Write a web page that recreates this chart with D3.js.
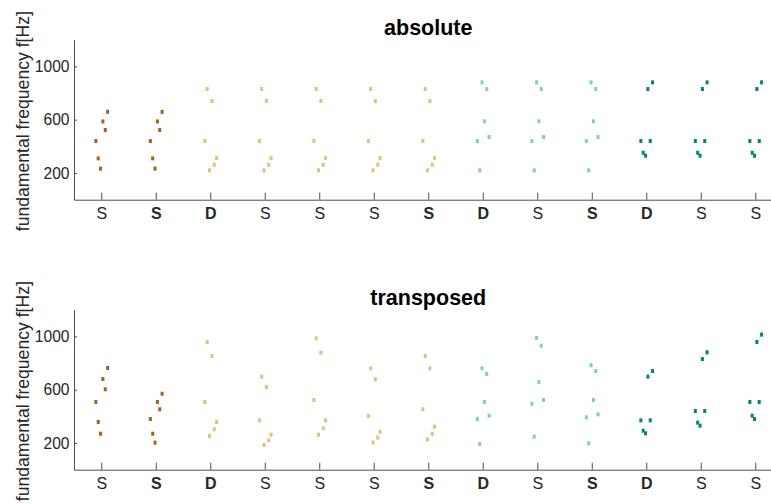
<!DOCTYPE html>
<html>
<head>
<meta charset="utf-8">
<script src="https://cdn.jsdelivr.net/npm/d3@7"></script>
<style>
  body { margin: 0; background: #fff; }
  svg { font-family: "Liberation Sans", Arial, Helvetica, sans-serif; }
</style>
</head>
<body>
<div id="chart"></div>
<script>
// tick labels along the x axis, and which of them are bold
const tickLabels = ['S', 'S', 'D', 'S', 'S', 'S', 'S', 'D', 'S', 'S', 'D', 'S', 'S']
const boldTicks = [false, true, true, false, false, false, true, true, false, true, true, false, false]

// colour group of each category (BrBG-like)
const groupColors = ['#a6611a', '#dfc27d', '#80cdc1', '#018571']
const categoryGroup = [0, 0, 1, 1, 1, 1, 1, 2, 2, 2, 3, 3, 3]

// six notes per category (Hz), in the order they are drawn left to right
const absoluteValues = [
  [440, 310, 233, 587, 523, 659],
  [440, 310, 233, 587, 523, 659],
  [440, 830, 220, 740, 262, 312],
  [440, 830, 220, 740, 262, 312],
  [440, 830, 220, 740, 262, 312],
  [440, 830, 220, 740, 262, 312],
  [440, 830, 220, 740, 262, 312],
  [440, 220, 880, 588, 830, 470],
  [440, 220, 880, 588, 830, 470],
  [440, 220, 880, 588, 830, 470],
  [440, 352, 330, 830, 440, 880],
  [440, 352, 330, 830, 440, 880],
  [440, 352, 330, 830, 440, 880]
]

const transposedValues = [
  [508, 358, 270, 680, 603, 763],
  [380, 270, 203, 508, 453, 570],
  [508, 958, 253, 853, 303, 358],
  [370, 698, 185, 620, 220, 263],
  [523, 985, 263, 878, 310, 370],
  [403, 760, 203, 678, 240, 285],
  [453, 853, 228, 760, 270, 323],
  [380, 193, 760, 508, 718, 405],
  [495, 248, 988, 658, 930, 523],
  [393, 198, 783, 523, 740, 415],
  [370, 293, 273, 698, 370, 740],
  [440, 353, 330, 830, 440, 880],
  [508, 405, 380, 958, 508, 1013]
]

const yTicks = [200, 600, 1000]

const width = 771
const height = 504
const textColor = '#262626'
const axisColor = '#4d4d4d'

const svg = d3.select('#chart')
  .append('svg')
  .attr('width', width)
  .attr('height', height)

const x = d3.scaleLinear()
  .domain([0.5, 13.5])
  .range([74, 782.5])

// draw one panel; top/bottom are the pixel rows of the y range
function drawPanel(title, values, top, bottom) {
  let y = d3.scaleLinear()
    .domain([0, 1200])
    .range([bottom, top])

  let g = svg.append('g')

  // x axis, ticks pointing up into the plot
  g.append('g')
    .attr('transform', `translate(0, ${bottom})`)
    .call(d3.axisBottom(x)
      .tickValues(d3.range(1, 14))
      .tickSizeInner(-7)
      .tickSizeOuter(0)
      .tickPadding(7.5)
      .tickFormat((d, i) => tickLabels[i]))
    .call(g => g.select('.domain').attr('stroke', axisColor))
    .call(g => g.selectAll('.tick line').attr('stroke', axisColor))
    .call(g => g.selectAll('.tick text')
      .attr('font-size', 16)
      .attr('fill', textColor)
      .attr('font-weight', (d, i) => boldTicks[i] ? 'bold' : 'normal'))

  // y axis, ticks cross the axis line
  g.append('g')
    .attr('transform', `translate(74, 0)`)
    .call(d3.axisLeft(y)
      .tickValues(yTicks)
      .tickFormat(d3.format('d'))
      .tickSizeInner(4)
      .tickSizeOuter(0)
      .tickPadding(0.5))
    .call(g => g.select('.domain').attr('stroke', axisColor))
    .call(g => g.selectAll('.tick line').attr('stroke', axisColor).attr('x2', 3))
    .call(g => g.selectAll('.tick text')
      .attr('font-size', 15.6)
      .attr('fill', textColor))

  // y label
  g.append('text')
    .attr('transform', `translate(29, ${(top + bottom) / 2 + 1.5}) rotate(-90)`)
    .attr('text-anchor', 'middle')
    .attr('font-size', 17.6)
    .attr('fill', textColor)
    .text('fundamental frequency f[Hz]')

  // title
  g.append('text')
    .attr('x', (x.range()[0] + x.range()[1]) / 2)
    .attr('y', top - 5)
    .attr('text-anchor', 'middle')
    .attr('font-size', 21.5)
    .attr('font-weight', 'bold')
    .attr('fill', '#000')
    .text(title)

  // the notes, slightly spread within each category
  let points = []
  values.forEach((notes, c) => {
    notes.forEach((hz, i) => {
      points.push({ cat: c + 1, slot: i, hz: hz, color: groupColors[categoryGroup[c]] })
    })
  })

  g.append('g')
    .selectAll('rect')
    .data(points)
    .enter().append('rect')
    .attr('x', d => x(d.cat + (d.slot - 2.3) * 0.043) - 1.5)
    .attr('y', d => y(d.hz) - 2)
    .attr('width', 3)
    .attr('height', 4)
    .attr('fill', d => d.color)
}

drawPanel('absolute', absoluteValues, 39.7, 199.7)
drawPanel('transposed', transposedValues, 309.7, 469.7)
</script>
</body>
</html>
